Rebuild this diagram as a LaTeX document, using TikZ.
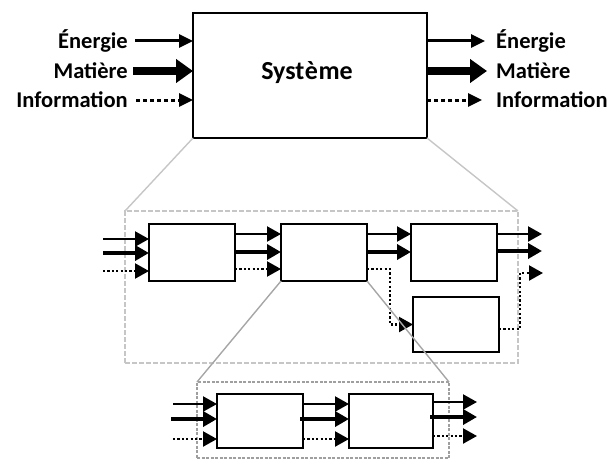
\documentclass[tikz,border=0pt]{standalone}
\usepackage{fontspec}
\setmainfont{Carlito}
\usetikzlibrary{arrows.meta}
\begin{document}
\begin{tikzpicture}[x=1pt,y=-1pt,
  box/.style={draw, line width=2pt, fill=white, inner sep=0pt, outer sep=0pt},
  lbl/.style={font=\fontsize{22.5}{24}\selectfont\bfseries, inner sep=0pt},
  zoneA/.style={draw=gray!45, line width=1.6pt, dash pattern=on 5pt off 2pt, inner sep=0pt, outer sep=0pt},
  zoneB/.style={draw=gray!75, line width=1.3pt, dash pattern=on 3pt off 1.5pt, inner sep=0pt, outer sep=0pt},
  zoomA/.style={draw=gray!45, line width=1.4pt},
  zoomB/.style={draw=gray!70, line width=1.4pt},
  eT/.style={line width=3pt, -{Triangle[length=14pt,width=13pt]}},
  mT/.style={line width=8pt, -{Triangle[length=17pt,width=23pt]}},
  iT/.style={line width=3pt, dash pattern=on 3.5pt off 3.5pt, -{Triangle[length=14pt,width=13pt]}},
  eS/.style={line width=2.2pt, -{Triangle[length=14pt,width=15pt]}},
  mS/.style={line width=4.6pt, -{Triangle[length=14pt,width=15pt]}},
  iS/.style={line width=2.2pt, dash pattern=on 2.2pt off 2.2pt, -{Triangle[length=14pt,width=15pt]}}
]
\useasboundingbox (0,0) rectangle (609,460);

% ---------- level 1 ----------
\node[box, minimum width=234pt, minimum height=125pt] (sys) at (310,75.5) {};
\node[font=\fontsize{26}{28}\selectfont\bfseries, inner sep=0pt] (systxt) at (307,73) {Syst\kern0.5pt è\kern0.5pt me};

\node[lbl, anchor=east] (lE) at (128,41) {Énergie};
\node[lbl, anchor=east] (lM) at (128,71) {Matière};
\node[lbl, anchor=east] (lI) at (128,100) {Information};
\node[lbl, anchor=west] (rE) at (496,41) {Énergie};
\node[lbl, anchor=west] (rM) at (496,71) {Matière};
\node[lbl, anchor=west] (rI) at (496,100) {Information};

\coordinate (ie) at (135,41);
\coordinate (im) at (133,71);
\coordinate (ii) at (136,100);
\coordinate (oe) at (485,41);
\coordinate (om) at (487,71);
\coordinate (oi) at (482,100);
\draw[eT] (ie) -- (ie -| sys.west);
\draw[mT] (im) -- (im -| sys.west);
\draw[iT] (ii) -- (ii -| sys.west);
\draw[eT] (oe -| sys.east) -- (oe);
\draw[mT] (om -| sys.east) -- (om);
\draw[iT] (oi -| sys.east) -- (oi);

% ---------- level 2 ----------
\node[zoneA, minimum width=393pt, minimum height=152pt] (z1) at (321.5,287) {};
\draw[zoomA] (sys.south west) -- (z1.north west);
\draw[zoomA] (sys.south east) -- (z1.north east);

\node[box, minimum width=86pt, minimum height=57pt] (b1) at (192,252.5) {};
\node[box, minimum width=86pt, minimum height=57pt] (b2) at (324,252.5) {};
\node[box, minimum width=86pt, minimum height=57pt] (b3) at (454,252.5) {};
\node[box, minimum width=86pt, minimum height=55pt] (b4) at (456,324.5) {};

\coordinate (a1) at (103,239);
\coordinate (a2) at (103,253);
\coordinate (a3) at (103,271);
\draw[eS] (a1) -- (a1 -| b1.west);
\draw[mS] (a2) -- (a2 -| b1.west);
\draw[iS] (a3) -- (a3 -| b1.west);

\coordinate (y1) at (0,234);
\coordinate (y2) at (0,252);
\coordinate (y3) at (0,269);
\draw[eS] (y1 -| b1.east) -- (y1 -| b2.west);
\draw[mS] (y2 -| b1.east) -- (y2 -| b2.west);
\draw[iS] (y3 -| b1.east) -- (y3 -| b2.west);

\draw[eS] (y1 -| b2.east) -- (y1 -| b3.west);
\draw[mS] (y2 -| b2.east) -- (y2 -| b3.west);
\coordinate (k1) at (390,269);
\draw[iS] (y3 -| b2.east) -- (k1) |- (b4.west);

\coordinate (o1) at (542,234);
\coordinate (o2) at (542,251);
\coordinate (o3) at (543,273);
\draw[eS] (o1 -| b3.east) -- (o1);
\draw[mS] (o2 -| b3.east) -- (o2);
\coordinate (k2) at (520,329);
\draw[iS] (k2 -| b4.east) -- (k2) |- (o3);

% ---------- level 3 ----------
\node[zoneB, minimum width=252pt, minimum height=76pt] (z2) at (323,420) {};

\node[box, minimum width=86pt, minimum height=54pt] (bA) at (260,421) {};
\node[box, minimum width=84pt, minimum height=54pt] (bB) at (391,421) {};

\coordinate (c1) at (173,404);
\coordinate (c2) at (171,419);
\coordinate (c3) at (173,439);
\draw[eS] (c1) -- (c1 -| bA.west);
\draw[mS] (c2) -- (c2 -| bA.west);
\draw[iS] (c3) -- (c3 -| bA.west);

\coordinate (s1) at (0,404);
\coordinate (s2) at (300,419);
\coordinate (s3) at (0,439);
\draw[eS] (s1 -| bA.east) -- (s1 -| bB.west);
\draw[mS] (s2) -- (s2 -| bB.west);
\draw[iS] (s3 -| bA.east) -- (s3 -| bB.west);

\coordinate (d1) at (477,402);
\coordinate (d2) at (477,417);
\coordinate (d3) at (477,436);
\coordinate (d2s) at (430,417);
\draw[eS] (d1 -| bB.east) -- (d1);
\draw[mS] (d2s) -- (d2);
\draw[iS] (d3 -| bB.east) -- (d3);

\draw[zoomB] (b2.south west) -- (z2.north west);
\draw[zoomB] (b2.south east) -- (z2.north east);
\end{tikzpicture}
\end{document}
